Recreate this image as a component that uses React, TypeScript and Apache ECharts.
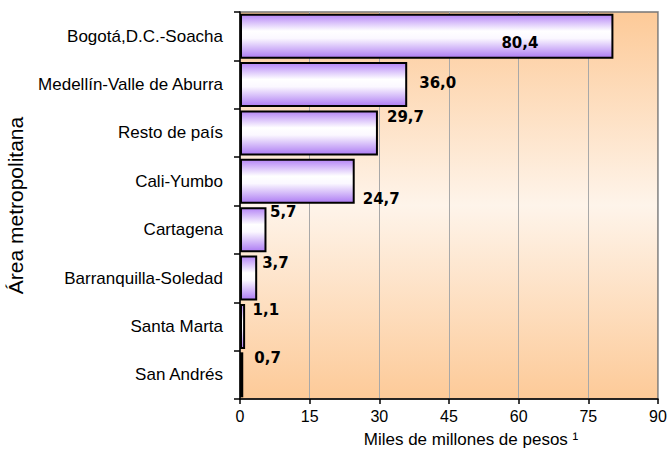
import React, { useEffect, useRef } from "react";
import * as echarts from "echarts";

const categories = [
  "Bogotá,D.C.-Soacha",
  "Medellín-Valle de Aburra",
  "Resto de país",
  "Cali-Yumbo",
  "Cartagena",
  "Barranquilla-Soledad",
  "Santa Marta",
  "San Andrés",
];
const values = [80.4, 36.0, 29.7, 24.7, 5.7, 3.7, 1.1, 0.7];
const xTicks = { min: 0, max: 90, interval: 15 };
const labelOffsets: [number, number][] = [
  [-117, 7],
  [7, -1.5],
  [4, -16],
  [3, 18],
  [-1.5, -17.5],
  [0, -15.5],
  [2.5, -16],
  [6, -17],
];

export default function App() {
  const ref = useRef<HTMLDivElement>(null);
  useEffect(() => {
    if (!ref.current) return;
    const chart = echarts.init(ref.current, undefined, { renderer: "svg" });
    const barGrad = new echarts.graphic.LinearGradient(0, 0, 0, 1, [
      { offset: 0, color: "#b585f6" },
      { offset: 0.38, color: "#ffffff" },
      { offset: 0.55, color: "#fbf8ff" },
      { offset: 1, color: "#ad7cf3" },
    ]);
    const bgGrad = new echarts.graphic.LinearGradient(0, 0, 0, 1, [
      { offset: 0, color: "#fdca98" },
      { offset: 0.5, color: "#fef4ea" },
      { offset: 1, color: "#fdca98" },
    ]);
    chart.setOption({
      animation: false,
      backgroundColor: "#ffffff",
      grid: {
        left: 240,
        right: 10,
        top: 12,
        bottom: 71,
        containLabel: false,
        outerBoundsMode: "none",
        show: true,
        backgroundColor: bgGrad,
        borderColor: "#777777",
        borderWidth: 1.5,
      },
      xAxis: {
        type: "value",
        min: xTicks.min,
        max: xTicks.max,
        interval: xTicks.interval,
        name: "Miles de millones de pesos ¹",
        nameLocation: "middle",
        nameGap: 32,
        nameTextStyle: {
          fontFamily: "Liberation Sans",
          fontSize: 17,
          color: "#000",
          padding: [0, 0, 0, 44],
        },
        axisLine: { show: true, lineStyle: { color: "#000", width: 1.5 } },
        axisTick: { show: true, length: 5, lineStyle: { color: "#000", width: 1.5 } },
        axisLabel: {
          fontFamily: "Liberation Sans",
          fontSize: 16,
          color: "#000",
          margin: 9,
        },
        splitLine: { show: true, lineStyle: { color: "#a8a8a8", width: 1 } },
      },
      yAxis: {
        type: "category",
        inverse: true,
        data: categories,
        name: "Área metropolitana",
        nameLocation: "middle",
        nameGap: 211,
        nameRotate: 90,
        nameTextStyle: {
          fontFamily: "Liberation Sans",
          fontSize: 21,
          color: "#000",
        },
        axisLine: { show: true, lineStyle: { color: "#000", width: 1.5 } },
        axisTick: { show: true, length: 6, lineStyle: { color: "#000", width: 1.5 } },
        axisLabel: {
          fontFamily: "Liberation Sans",
          fontSize: 17,
          color: "#000",
          margin: 17,
        },
      },
      series: [
        {
          type: "bar",
          barCategoryGap: "7%",
          data: values.map((v, i) => ({
            value: v,
            label: { offset: labelOffsets[i] },
          })),
          itemStyle: {
            color: barGrad,
            borderColor: "#000",
            borderWidth: 2,
          },
          label: {
            show: true,
            position: "right",
            distance: 5,
            fontFamily: "DejaVu Sans",
            fontWeight: "bold",
            fontSize: 15,
            color: "#000",
            formatter: (p: any) => p.value.toFixed(1).replace(".", ","),
          },
        },
      ],
    });
    return () => chart.dispose();
  }, []);
  return (
    <div
      ref={ref}
      style={{ position: "fixed", left: 0, top: 0, width: 668, height: 470 }}
    />
  );
}
